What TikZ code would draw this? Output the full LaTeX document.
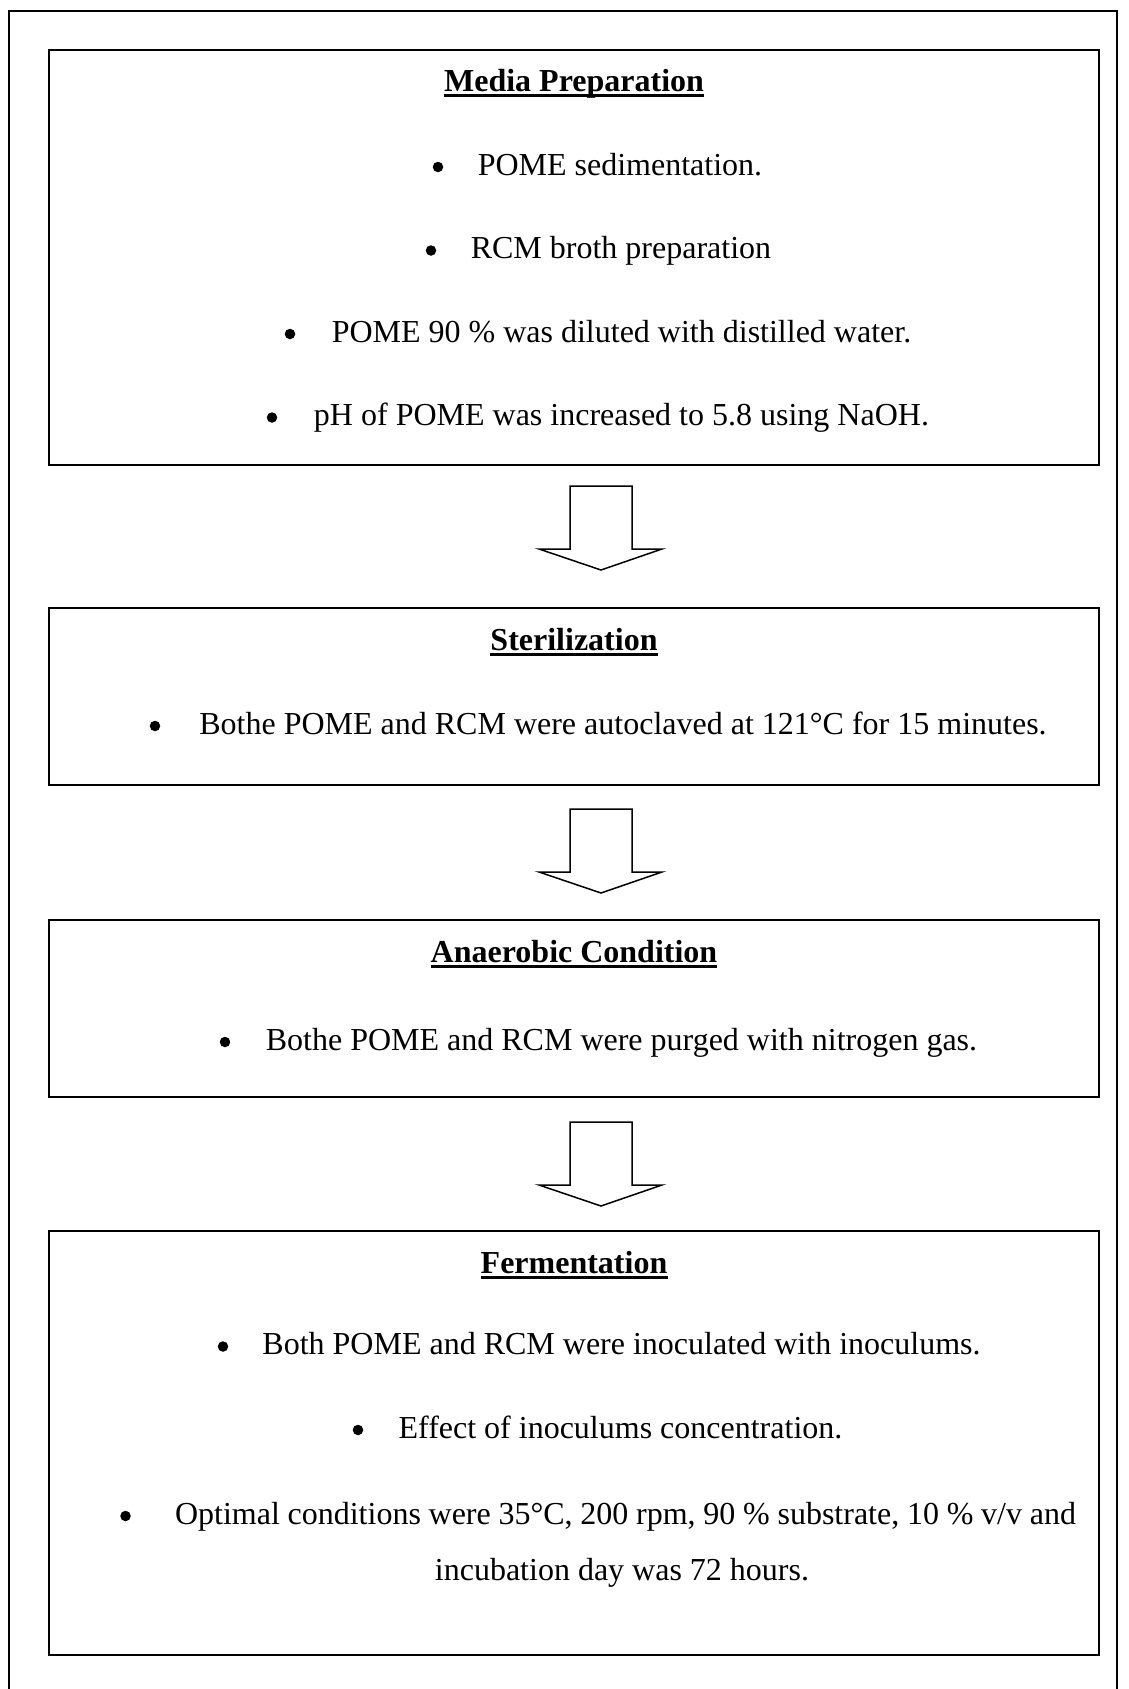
\documentclass[tikz,border=0pt]{standalone}
\usepackage{fontspec}
\setmainfont{Liberation Serif}
\usetikzlibrary{calc}
\begin{document}
\begin{tikzpicture}[x=1pt,y=-1pt,
  frame/.style={draw=black,line width=2pt},
  stagebox/.style={draw=black,line width=2pt,rectangle,inner sep=0pt,fill=none},
  txt/.style={inner sep=0pt,anchor=base,font=\fontsize{32}{38}\selectfont},
  ttl/.style={txt,font=\fontsize{32}{38}\selectfont\bfseries},
  bul/.style={circle,fill=black,inner sep=0pt,minimum size=10.5pt},
  uline/.style={line width=3pt},
  blockarrow/.style={draw=black,line width=1.5pt,fill=white,line join=miter}
]
\useasboundingbox (0,0) rectangle (1128,1689);
\fill[white] (0,0) rectangle (1128,1689);
% outer frame
\coordinate (fbl) at (9,1689);
\coordinate (ftl) at (9,10.7);
\coordinate (ftr) at (1116.5,10.7);
\coordinate (fbr) at (1116.5,1689);
\draw[frame] (fbl) -- (ftl) -- (ftr) -- (fbr);

% boxes
\node[stagebox,minimum width=1050pt,minimum height=415pt] (b1) at (574,257.5) {};
\node[stagebox,minimum width=1050pt,minimum height=177pt] (b2) at (574,696.5) {};
\node[stagebox,minimum width=1050pt,minimum height=177pt] (b3) at (574,1008.5) {};
\node[stagebox,minimum width=1050pt,minimum height=424pt] (b4) at (574,1443) {};

% arrows
\draw[blockarrow] (570,486) -- (632,486) -- (632,549) -- (662,549) -- (601,570) -- (539,549) -- (570,549) -- cycle;
\draw[blockarrow] (570,809) -- (632,809) -- (632,872) -- (662,872) -- (601,893) -- (539,872) -- (570,872) -- cycle;
\draw[blockarrow] (570,1122) -- (632,1122) -- (632,1185) -- (662,1185) -- (601,1206) -- (539,1185) -- (570,1185) -- cycle;

% box 1
\node[ttl] (t1) at (574,91) {Media Preparation};
\draw[uline] ([yshift=-4pt]t1.base west) -- ([yshift=-4pt]t1.base east);
\node[txt] (l11) at (620,175) {POME sedimentation.};
\node[bul] (d11) at (438,167) {};
\node[txt] (l12) at (621,258.5) {RCM broth preparation};
\node[bul] (d12) at (431,250.5) {};
\node[txt] (l13) at (621.5,342) {POME 90 \% was diluted with distilled water.};
\node[bul] (d13) at (290,334) {};
\node[txt] (l14) at (621.5,425.5) {pH of POME was increased to 5.8 using NaOH.};
\node[bul] (d14) at (272,417.5) {};

% box 2
\node[ttl] (t2) at (574,650) {Sterilization};
\draw[uline] ([yshift=-4pt]t2.base west) -- ([yshift=-4pt]t2.base east);
\node[txt] (l21) at (623,734) {Bothe POME and RCM were autoclaved at 121°C for 15 minutes.};
\node[bul] (d21) at (155,726) {};

% box 3
\node[ttl] (t3) at (574,962) {Anaerobic Condition};
\draw[uline] ([yshift=-4pt]t3.base west) -- ([yshift=-4pt]t3.base east);
\node[txt] (l31) at (621.5,1050) {Bothe POME and RCM were purged with nitrogen gas.};
\node[bul] (d31) at (225,1042) {};

% box 4
\node[ttl] (t4) at (574,1273) {Fermentation};
\draw[uline] ([yshift=-4pt]t4.base west) -- ([yshift=-4pt]t4.base east);
\node[txt] (l41) at (621.5,1354.5) {Both POME and RCM were inoculated with inoculums.};
\node[bul] (d41) at (223,1346.5) {};
\node[txt] (l42) at (620.5,1438) {Effect of inoculums concentration.};
\node[bul] (d42) at (358,1430) {};
\node[txt] (l43) at (625.5,1524) {\makebox[901pt][s]{Optimal conditions were 35°C, 200 rpm, 90 \% substrate, 10 \% v/v and}};
\node[bul] (d43) at (125.5,1516) {};
\node[txt] (l44) at (622,1580) {incubation day was 72 hours.};
\end{tikzpicture}
\end{document}
